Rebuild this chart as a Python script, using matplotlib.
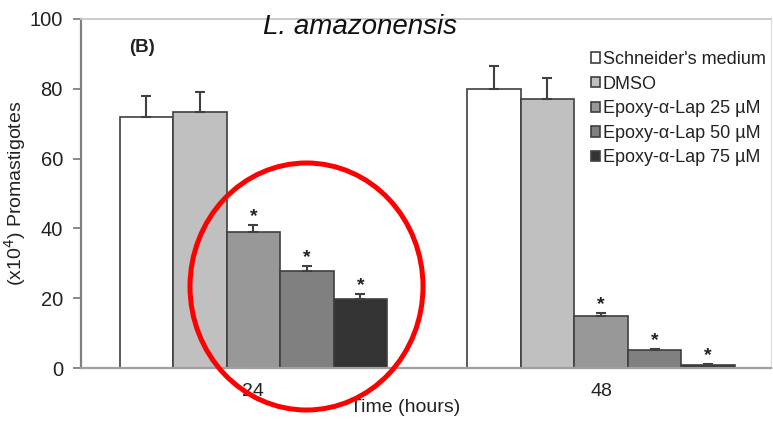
import matplotlib
matplotlib.use("Agg")
import matplotlib.pyplot as plt
from matplotlib.patches import Ellipse
import numpy as np

plt.rcParams['font.family'] = ['Liberation Sans', 'DejaVu Sans']

times = ['24', '48']
groups = ["Schneider's medium", 'DMSO', 'Epoxy-\u03b1-Lap 25 \u00b5M',
          'Epoxy-\u03b1-Lap 50 \u00b5M', 'Epoxy-\u03b1-Lap 75 \u00b5M']
colors = ['#ffffff', '#c0c0c0', '#989898', '#808080', '#333333']
# promastigotes (x10^4) per group at 24 h and 48 h
means = [[72.0, 79.8], [73.3, 77.0], [38.9, 14.9], [27.8, 5.2], [19.9, 0.9]]
errs = [[5.9, 6.8], [5.7, 6.1], [2.1, 0.8], [1.4, 0.3], [1.2, 0.2]]
signif = [False, False, True, True, True]

fig = plt.figure(figsize=(7.73, 4.21), dpi=100)
ax = fig.add_axes([81/773, 53/421, 690/773, 349/421])

x = np.arange(len(times))
w = 0.154
for i, g in enumerate(groups):
    pos = x + (i - 2) * w
    ax.bar(pos, means[i], w, color=colors[i], edgecolor='#404040', linewidth=1.2,
           label=g, zorder=2,
           yerr=[np.zeros(len(times)), errs[i]], capsize=3.5,
           error_kw=dict(ecolor='#404040', elinewidth=1.5, capthick=1.5))
    if signif[i]:
        for p, m, e in zip(pos, means[i], errs[i]):
            ax.annotate('*', (p, m + e), xytext=(0, 0), textcoords='offset points',
                        ha='center', va='bottom', fontsize=14, fontweight='bold',
                        color='#222222')

ax.set_xlim(-0.496, 1.489)
ax.set_ylim(0, 100)
ax.set_yticks(range(0, 101, 20))
ax.set_xticks(x)
ax.set_xticklabels(times)
ax.tick_params(axis='y', length=6, width=1.3, color='#808080', labelsize=14.5,
               labelcolor='#222222', pad=7)
ax.tick_params(axis='x', length=0, labelsize=14, labelcolor='#222222', pad=11)

for s, c, lw in [('left', '#808080', 1.6), ('bottom', '#a0a0a0', 1.6),
                 ('top', '#c8c8c8', 1.3), ('right', '#e0e0e0', 1.0)]:
    ax.spines[s].set_color(c)
    ax.spines[s].set_linewidth(lw)

ax.set_ylabel('(x10$^{4}$) Promastigotes', fontsize=14, color='#222222')
ax.yaxis.set_label_coords(-53/690, 0.5)
fig.text(405/773, 1 - 407/421, 'Time (hours)', ha='center', va='center',
         fontsize=14, color='#222222')
fig.text(360/773, 1 - 27/421, 'L. amazonensis', ha='center', va='center',
         fontsize=20, style='italic', color='#111111')
ax.text(142/773, 1 - 47/421, '(B)', transform=fig.transFigure, ha='center',
        va='center', fontsize=13.5, fontweight='bold', color='#222222')

ax.legend(loc='upper left', bbox_to_anchor=(582/773, 1 - 42/421),
          bbox_transform=fig.transFigure, frameon=False, fontsize=13,
          handlelength=0.5, handleheight=0.5, handletextpad=0.15,
          labelspacing=0.42, borderpad=0, labelcolor='#222222')

circle = Ellipse((306.5/773, 1 - 286.5/421), 233/773, 247/421,
                 transform=fig.transFigure, fill=False, edgecolor='#ff0000',
                 linewidth=3.6, zorder=10)
fig.patches.append(circle)

fig.savefig('out.png', dpi=100)
